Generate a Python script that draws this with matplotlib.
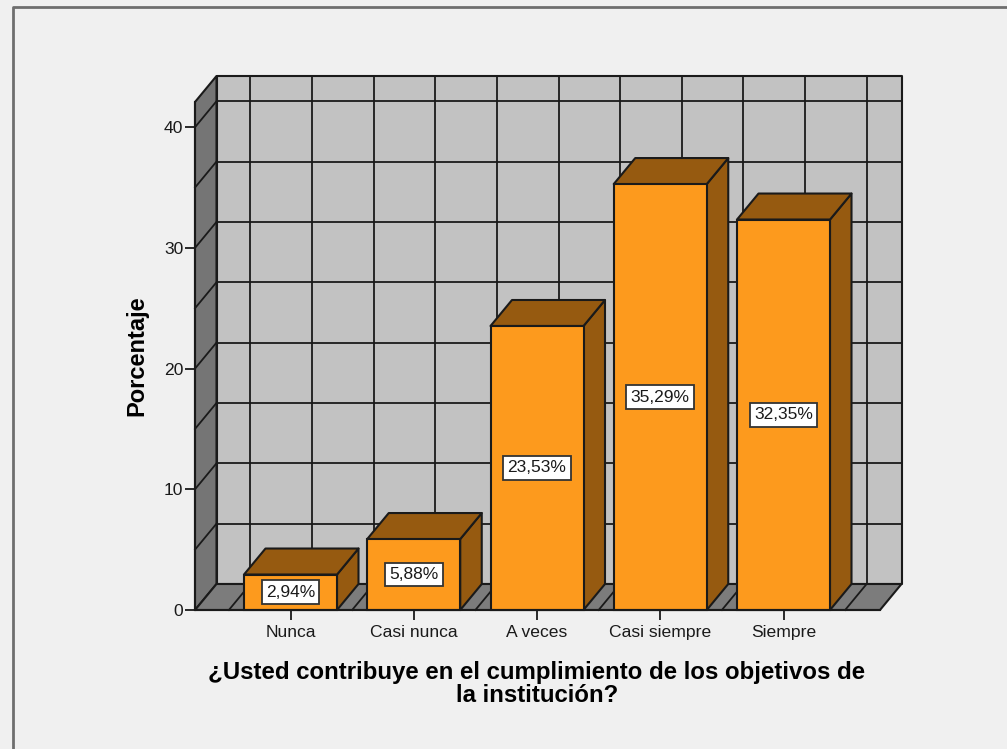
import matplotlib
matplotlib.use("Agg")
import matplotlib.pyplot as plt
from matplotlib.patches import Polygon
from matplotlib.lines import Line2D

categories = ["Nunca", "Casi nunca", "A veces", "Casi siempre", "Siempre"]
values = [2.94, 5.88, 23.53, 35.29, 32.35]
labels = ["2,94%", "5,88%", "23,53%", "35,29%", "32,35%"]
yticks = [0, 10, 20, 30, 40]
title = "¿Usted contribuye en el cumplimiento de los objetivos de\nla institución?"
ylabel = "Porcentaje"

W, H = 1007, 749
BG = "#f0f0f0"; WALL = "#c2c2c2"; SIDE = "#757575"; FLOOR = "#7c7c7c"
ORANGE = "#fd9a1d"; DARK = "#965a10"; INK = "#1a1a1a"

plt.rcParams["font.family"] = ["Liberation Sans", "DejaVu Sans"]
fig = plt.figure(figsize=(W / 100, H / 100), dpi=100, facecolor=BG)

px_l, px_r, px_b, px_t = 195, 880, 610, 102
ax = fig.add_axes([px_l / W, 1 - px_b / H, (px_r - px_l) / W, (px_b - px_t) / H])
ax.set_facecolor("none")
step = 123.25
unit = 12.07
ax.set_xlim((px_l - 290.5) / step, (px_r - 290.5) / step)
ax.set_ylim(0, (px_b - px_t) / unit)
x0, x1 = ax.get_xlim()
y1 = ax.get_ylim()[1]
dx = 21.5 / step
dy = 26 / unit

def poly(pts, fc, ec=INK, lw=1.5, z=1):
    ax.add_patch(Polygon(pts, closed=True, fc=fc, ec=ec, lw=lw, zorder=z,
                         clip_on=False, joinstyle="round"))

def seg(xs, ys, lw=1.3, z=2):
    ax.add_line(Line2D(xs, ys, color=INK, lw=lw, zorder=z, clip_on=False))

# walls
poly([(x0 + dx, dy), (x1 + dx, dy), (x1 + dx, y1 + dy), (x0 + dx, y1 + dy)], WALL)
poly([(x0, 0), (x0 + dx, dy), (x0 + dx, y1 + dy), (x0, y1)], SIDE)
poly([(x0, 0), (x1, 0), (x1 + dx, dy), (x0 + dx, dy)], FLOOR)

# grid on the walls and floor
for k in range(1, 9):
    y = 5 * k
    seg([x0, x0 + dx], [y, y + dy])
    seg([x0 + dx, x1 + dx], [y + dy, y + dy])
for k in range(-1, 10):
    x = k * 0.5
    seg([x + dx, x + dx], [dy, y1 + dy])
    seg([x, x + dx], [0, dy])

# bars
width = 93 / step
pos = list(range(len(categories)))
for i, v in zip(pos, values):
    l, r = i - width / 2, i + width / 2
    poly([(r, 0), (r + dx, dy), (r + dx, v + dy), (r, v)], DARK, z=3 + i)
    poly([(l, v), (r, v), (r + dx, v + dy), (l + dx, v + dy)], DARK, z=3 + i)
    ax.bar(i, v, width=width, color=ORANGE, edgecolor=INK, linewidth=1.5,
           zorder=3 + i, clip_on=False)
    ax.text(i, v / 2, labels[i], ha="center", va="center", fontsize=12.5,
            color=INK, zorder=20,
            bbox=dict(boxstyle="square,pad=0.25", fc="white", ec="#333333", lw=1.3))

# axes
for s in ("top", "right"):
    ax.spines[s].set_visible(False)
for s in ("left", "bottom"):
    ax.spines[s].set_linewidth(1.5)
    ax.spines[s].set_color(INK)
    ax.spines[s].set_zorder(30)
ax.set_xticks(pos, categories)
ax.set_yticks(yticks)
ax.tick_params(axis="both", length=7.5, width=1.3, color=INK, labelcolor=INK,
               labelsize=12.6, pad=1)
ax.tick_params(axis="x", pad=3)

fig.text(137 / W, 1 - 356 / H, ylabel, rotation=90, ha="center", va="center",
         fontsize=17, fontweight="bold", color="black")
fig.text(537 / W, 1 - 684 / H, title, ha="center", va="center", fontsize=17.3,
         fontweight="bold", color="black", linespacing=0.95)

# outer frame
fig.add_artist(Line2D([1.0, 12.5 / W, 12.5 / W], [1 - 7 / H, 1 - 7 / H, 0],
                      color="#6e6e6e", lw=2, transform=fig.transFigure))

fig.savefig("out.png", dpi=100, facecolor=BG)
